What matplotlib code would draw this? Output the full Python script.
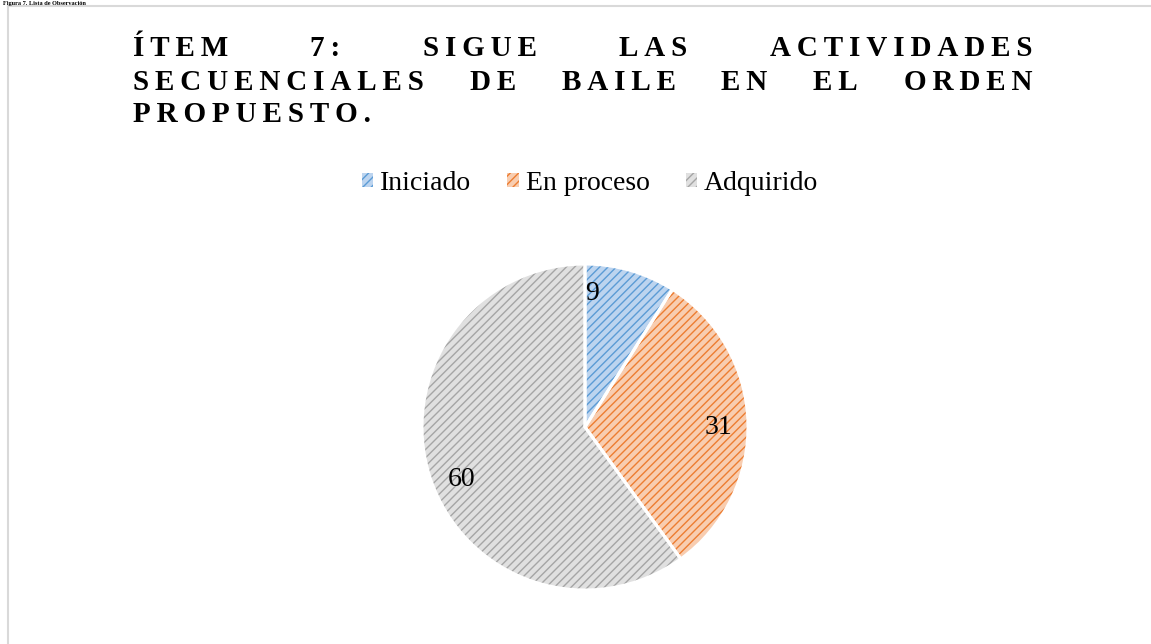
import numpy as np
import matplotlib
matplotlib.use("Agg")
import matplotlib.pyplot as plt
from matplotlib.lines import Line2D

# Data
categories = ["Iniciado", "En proceso", "Adquirido"]
values = [9, 31, 60]
title_lines = [["ÍTEM", "7:", "SIGUE", "LAS", "ACTIVIDADES"],
               ["SECUENCIALES", "DE", "BAILE", "EN", "EL", "ORDEN"],
               ["PROPUESTO."]]
caption = "Figura 7. Lista de Observación"

face_colors = ["#bcd4ef", "#f8cdb0", "#e0e0e0"]
hatch_colors = ["#5b9bd5", "#ed7d31", "#a5a5a5"]
serif = ["Liberation Serif", "DejaVu Serif"]

plt.rcParams["hatch.linewidth"] = 1.0

W, H = 1151, 644
fig = plt.figure(figsize=(W / 100, H / 100), dpi=100)

# frame of the chart area (cut at right and bottom)
fig.add_artist(Line2D([8 / W, 8 / W], [0, 1 - 6 / H], transform=fig.transFigure,
                      color="#d9d9d9", lw=1.5))
fig.add_artist(Line2D([8 / W, 1], [1 - 6 / H, 1 - 6 / H], transform=fig.transFigure,
                      color="#d9d9d9", lw=1.5))

# caption at the very top (mostly hidden in the reference)
fig.text(3 / W, 1 - 0.5 / H, caption, fontsize=4.5, fontweight="bold",
         family=serif, va="top", ha="left")

# pie
cx, cy, r = 585, 427, 163
ax = fig.add_axes([(cx - r) / W, (H - cy - r) / H, 2 * r / W, 2 * r / H])
wedges, _ = ax.pie(values, startangle=90, counterclock=False,
                   colors=face_colors, wedgeprops=dict(linewidth=0))
for w, hc in zip(wedges, hatch_colors):
    w.set_hatch("////")
    w.set_edgecolor(hc)
    w.set_linewidth(0)
# white separators on top
outline, _ = ax.pie(values, startangle=90, counterclock=False,
                    wedgeprops=dict(fill=False, edgecolor="white", linewidth=2.2))
ax.set_xlim(-1, 1)
ax.set_ylim(-1, 1)
ax.set_aspect("equal")

# data labels (Excel best-fit style)
label_angles = [87, 0, 203]
for v, a in zip(values, label_angles):
    t = np.deg2rad(a)
    ax.text(0.82 * np.cos(t), 0.82 * np.sin(t), str(v), ha="center", va="center",
            fontsize=20, family=serif)

# legend
fig.legend(wedges, categories, loc="center", bbox_to_anchor=(590 / W, 1 - 183 / H),
           ncol=3, frameon=False, prop=dict(family=serif, size=20),
           handlelength=0.4, handleheight=0.4, handletextpad=0.25, columnspacing=1.3)

# justified, letter-spaced title
x0, x1 = 133, 1032
line_y = [48, 82, 115]
fig.canvas.draw()
renderer = fig.canvas.get_renderer()
for li, (words, yy) in enumerate(zip(title_lines, line_y)):
    texts = []
    for wd in words:
        s = "\u2009".join(wd)
        texts.append(fig.text(0, 1 - yy / H, s, fontsize=21, fontweight="bold",
                              family=serif, va="center", ha="left"))
    widths = [t.get_window_extent(renderer).width for t in texts]
    if li < len(title_lines) - 1 and len(texts) > 1:
        gap = (x1 - x0 - sum(widths)) / (len(texts) - 1)
    else:
        gap = 12
    x = x0
    for t, wdt in zip(texts, widths):
        t.set_x(x / W)
        x += wdt + gap

fig.savefig("out.png", dpi=100)
